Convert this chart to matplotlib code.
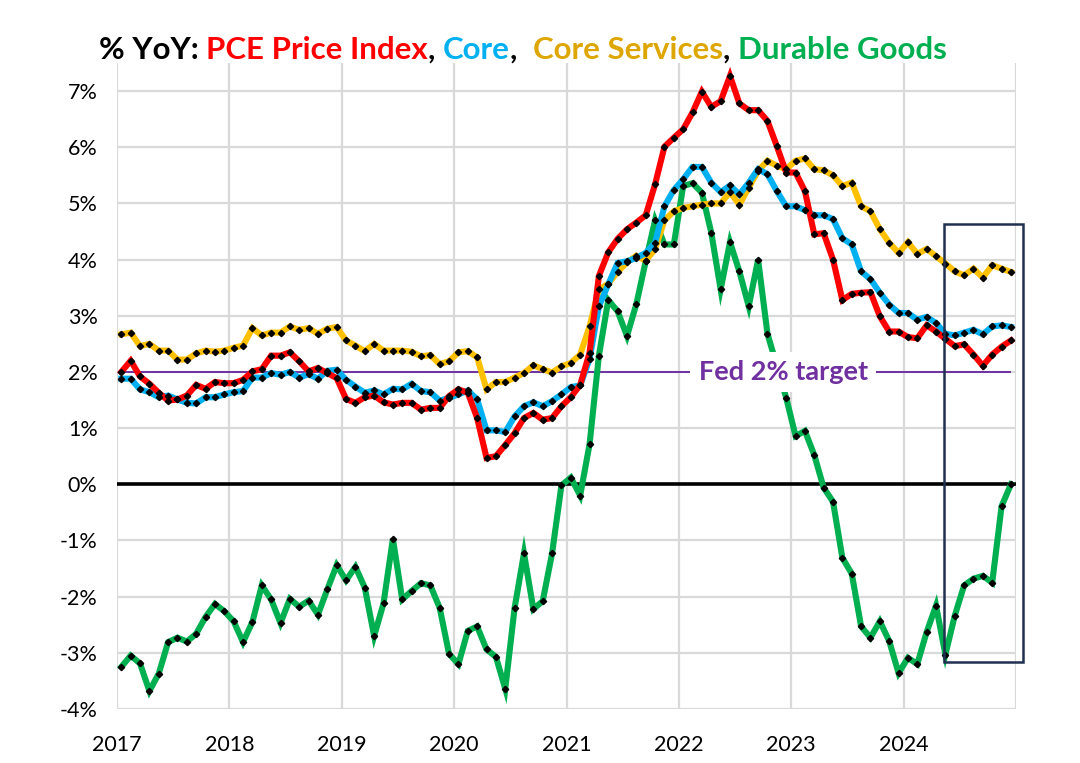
import numpy as np
import matplotlib
matplotlib.use("Agg")
import matplotlib.pyplot as plt

# monthly YoY %, Jan 2017 .. Dec 2024
pce = [2.00, 2.20, 1.92, 1.79, 1.63, 1.49, 1.51, 1.58, 1.77, 1.70, 1.82, 1.80,
       1.80, 1.86, 2.01, 2.05, 2.29, 2.29, 2.35, 2.19, 2.01, 2.07, 1.98, 1.89,
       1.52, 1.45, 1.55, 1.58, 1.46, 1.42, 1.45, 1.45, 1.33, 1.36, 1.36, 1.57,
       1.69, 1.63, 1.18, 0.47, 0.50, 0.70, 0.91, 1.18, 1.27, 1.15, 1.18, 1.39,
       1.55, 1.77, 2.34, 3.71, 4.13, 4.37, 4.54, 4.66, 4.79, 5.34, 6.01, 6.17,
       6.32, 6.62, 6.99, 6.72, 6.82, 7.27, 6.78, 6.66, 6.66, 6.47, 6.02, 5.55,
       5.55, 5.22, 4.45, 4.47, 4.00, 3.28, 3.39, 3.41, 3.42, 2.99, 2.72, 2.72,
       2.62, 2.60, 2.83, 2.72, 2.59, 2.46, 2.49, 2.31, 2.11, 2.31, 2.45, 2.56]

core = [1.88, 1.88, 1.69, 1.64, 1.55, 1.58, 1.51, 1.45, 1.44, 1.55, 1.55, 1.60,
        1.64, 1.66, 1.90, 1.90, 1.98, 1.95, 2.00, 1.90, 1.96, 1.88, 2.02, 2.04,
        1.86, 1.74, 1.63, 1.67, 1.60, 1.70, 1.69, 1.79, 1.66, 1.64, 1.49, 1.54,
        1.60, 1.67, 1.51, 0.96, 0.96, 0.93, 1.21, 1.39, 1.46, 1.39, 1.48, 1.60,
        1.73, 1.76, 2.23, 3.17, 3.56, 3.94, 3.97, 4.03, 4.12, 4.30, 4.95, 5.24,
        5.43, 5.65, 5.65, 5.37, 5.20, 5.32, 5.16, 5.37, 5.61, 5.52, 5.22, 4.95,
        4.95, 4.88, 4.79, 4.79, 4.72, 4.38, 4.27, 3.79, 3.65, 3.41, 3.20, 3.05,
        3.05, 2.93, 2.98, 2.87, 2.68, 2.65, 2.70, 2.75, 2.67, 2.81, 2.83, 2.80]

core_services = [2.67, 2.70, 2.46, 2.50, 2.38, 2.38, 2.22, 2.22, 2.33, 2.38, 2.36, 2.38,
                 2.43, 2.47, 2.78, 2.65, 2.70, 2.70, 2.81, 2.75, 2.78, 2.68, 2.77, 2.80,
                 2.56, 2.47, 2.37, 2.50, 2.38, 2.38, 2.38, 2.36, 2.28, 2.30, 2.14, 2.19,
                 2.35, 2.37, 2.26, 1.69, 1.82, 1.82, 1.90, 1.98, 2.12, 2.05, 1.99, 2.10,
                 2.16, 2.31, 2.81, 3.47, 3.57, 3.78, 3.95, 4.07, 3.98, 4.19, 4.70, 4.86,
                 4.92, 4.95, 4.98, 5.00, 5.00, 5.20, 4.98, 5.28, 5.58, 5.76, 5.67, 5.61,
                 5.76, 5.80, 5.61, 5.59, 5.50, 5.31, 5.37, 4.95, 4.86, 4.54, 4.30, 4.12,
                 4.31, 4.10, 4.19, 4.06, 3.93, 3.79, 3.72, 3.84, 3.68, 3.90, 3.84, 3.78]

durable = [-3.25, -3.05, -3.19, -3.68, -3.37, -2.81, -2.73, -2.80, -2.66, -2.36, -2.13, -2.26,
           -2.44, -2.81, -2.45, -1.80, -2.05, -2.47, -2.04, -2.18, -2.07, -2.32, -1.87, -1.44,
           -1.71, -1.47, -1.84, -2.70, -2.12, -0.97, -2.05, -1.90, -1.76, -1.80, -2.20, -3.02,
           -3.20, -2.61, -2.53, -2.94, -3.07, -3.64, -2.20, -1.23, -2.22, -2.08, -1.23, -0.02,
           0.12, -0.20, 0.71, 2.29, 3.28, 3.08, 2.64, 3.21, 3.97, 4.70, 4.27, 4.27,
           5.31, 5.36, 5.19, 4.48, 3.47, 4.31, 3.79, 3.17, 4.00, 2.68, 2.11, 1.54,
           0.86, 0.95, 0.52, -0.06, -0.31, -1.31, -1.59, -2.53, -2.73, -2.44, -2.79, -3.36,
           -3.09, -3.20, -2.63, -2.16, -3.03, -2.34, -1.80, -1.68, -1.63, -1.75, -0.39, 0.00]

years = list(range(2017, 2026))
year_labels = [str(y) for y in range(2017, 2025)] + [""]
yticks = list(range(-4, 8))
fed_target = 2.0
box_x = (2024.36, 2025.06)
box_y = (-3.17, 4.63)

RED = "#FF0000"
BLUE = "#00B0F0"
GOLD = "#FFC000"
GOLD_TXT = "#DDA600"
GREEN = "#00B050"
PURPLE = "#7030A0"
NAVY = "#1F3050"

plt.rcParams["font.family"] = ["Lato", "DejaVu Sans"]

x = 2017 + (np.arange(len(pce)) + 0.46) / 12

fig = plt.figure(figsize=(10.8, 7.63), dpi=100)
ax = fig.add_axes([117 / 1080, 54 / 763, 899 / 1080, 646 / 763])

ax.set_xlim(2017, 2025)
ax.set_ylim(-4, 7.5)
ax.set_xticks(years)
ax.set_xticklabels(year_labels)
ax.set_yticks(yticks)
ax.set_yticklabels([f"{v}%" for v in yticks])
ax.tick_params(length=0, labelsize=15.5)
ax.tick_params(axis="y", pad=14)
ax.tick_params(axis="x", pad=19)
for s in ax.spines.values():
    s.set_visible(False)
ax.grid(True, color="#D9D9D9", linewidth=1.6)
ax.set_axisbelow(True)

ax.axhline(0, color="black", linewidth=2.6, zorder=2, xmin=-0.004)
ax.hlines(fed_target, x[0], x[-1], color=PURPLE, linewidth=1.4, zorder=2)

for series, col in [(durable, GREEN), (core_services, GOLD), (core, BLUE), (pce, RED)]:
    ax.plot(x, series, color=col, linewidth=4.4, solid_joinstyle="miter", zorder=3)
    ax.plot(x, series, linestyle="none", marker="D", markersize=3.2,
            color="black", zorder=4)

ax.text(2022.93, fed_target, "Fed 2% target", color=PURPLE, fontsize=19.5,
        fontweight="bold", ha="center", va="center", zorder=5,
        bbox=dict(facecolor="white", edgecolor="none", pad=6))

ax.add_patch(plt.Rectangle((box_x[0], box_y[0]), box_x[1] - box_x[0], box_y[1] - box_y[0],
                           fill=False, edgecolor=NAVY, linewidth=1.8, zorder=6, clip_on=False))

# multi-coloured title, pieces chained left to right
pieces = [("% YoY: ", "black"), ("PCE Price Index", RED), (", ", "black"),
          ("Core", BLUE), (",  ", "black"), ("Core Services", GOLD_TXT),
          (", ", "black"), ("Durable Goods", GREEN)]
prev = fig.text(99 / 1080, 1 - 64 / 763, pieces[0][0], color=pieces[0][1],
                fontsize=22.5, fontweight="bold", ha="left", va="bottom")
for s, c in pieces[1:]:
    prev = ax.annotate(s, xy=(1, 0), xycoords=prev, xytext=(0, 0),
                       textcoords="offset points", ha="left", va="bottom", color=c,
                       fontsize=22.5, fontweight="bold", annotation_clip=False)

fig.savefig("out.png", dpi=100)
